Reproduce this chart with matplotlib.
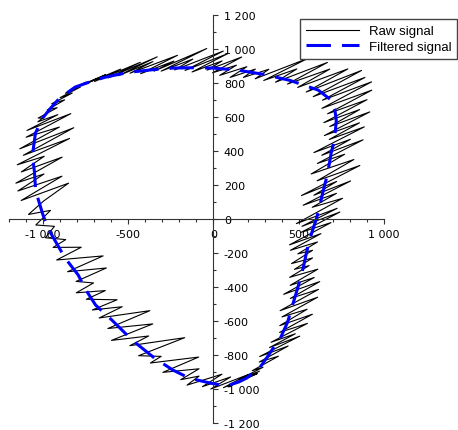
import matplotlib
matplotlib.use("Agg")
import matplotlib.pyplot as plt
from matplotlib.ticker import MultipleLocator, FuncFormatter

# raw (noisy) loop
raw_x = [-1000, -1026, -915, -973, -871, -947, -827, -898, -778, -867,
         -746, -798, -631, -756, -543, -696, -428, -616, -329, -557,
         -354, -488, -210, -426, -231, -347, -39, -306, -120, -227,
         58, -166, 82, -125, 51, -37, 166, -5, 135, 37,
         196, 98, 246, 176, 325, 245, 558, 295, 489, 364,
         668, 434, 682, 494, 788, 544, 868, 585, 888, 639,
         927, 636, 928, 669, 900, 647, 857, 682, 916, 650,
         856, 679, 884, 589, 803, 635, 877, 609, 769, 573,
         823, 608, 858, 516, 722, 589, 804, 526, 721, 579,
         757, 486, 725, 519, 741, 515, 689, 446, 630, 451,
         610, 495, 581, 458, 581, 475, 561, 447, 612, 450,
         591, 412, 623, 451, 616, 391, 611, 402, 549, 389,
         580, 388, 551, 338, 480, 329, 506, 271, 438, 269,
         381, 228, 291, 153, 270, 141, 257, 86, 216, 59,
         207, -15, 101, -64, 50, -154, -84, -191, -84, -296,
         -86, -369, -306, -438, -168, -489, -379, -597, -355, -618,
         -372, -669, -534, -709, -564, -744, -633, -803, -702, -804,
         -627, -854, -646, -918, -774, -939, -865, -984, -931, -1040,
         -954, -1083, -993, -848, -1126, -887, -1145, -992, -1157, -886,
         -1125, -991, -1149, -842, -1113, -818, -1134, -902, -1097, -835,
         -1092, -911, -1028, -1000]
raw_y = [594, 594, 655, 642, 701, 678, 741, 714, 777, 740,
         805, 779, 849, 792, 882, 809, 922, 830, 954, 843,
         926, 858, 963, 855, 929, 870, 1003, 870, 941, 877,
         988, 874, 972, 865, 930, 876, 953, 860, 905, 845,
         896, 833, 882, 833, 881, 825, 947, 815, 883, 805,
         921, 794, 882, 774, 883, 747, 874, 720, 833, 699,
         807, 651, 758, 619, 702, 567, 644, 544, 630, 491,
         566, 468, 542, 391, 469, 375, 466, 327, 381, 265,
         350, 225, 315, 138, 221, 140, 224, 81, 151, 69,
         122, -27, 63, -43, 41, -78, -21, -152, -86, -184,
         -135, -205, -184, -262, -229, -296, -274, -343, -295, -390,
         -344, -443, -368, -467, -414, -539, -460, -576, -531, -627,
         -560, -667, -614, -725, -675, -756, -689, -809, -747, -841,
         -807, -892, -872, -942, -895, -960, -909, -987, -926, -992,
         -914, -1000, -929, -986, -913, -977, -924, -945, -881, -902,
         -812, -847, -808, -804, -698, -745, -688, -714, -617, -644,
         -539, -582, -516, -535, -475, -472, -421, -434, -376, -367,
         -288, -310, -217, -241, -166, -167, -121, -110, -43, -35,
         51, 27, 107, 211, 109, 252, 165, 265, 211, 364,
         277, 369, 319, 474, 375, 537, 413, 541, 481, 620,
         521, 614, 572, 594]

# smoothed loop
filt_x = [-1000, -955, -911, -860, -810, -720, -631, -550, -476, -360,
          -238, -120, 0, 150, 300, 450, 613, 690, 712, 720,
          715, 705, 690, 680, 665, 649, 635, 620, 601, 580,
          560, 545, 530, 512, 494, 464, 435, 393, 351, 310,
          274, 235, 196, 150, 95, 40, -18, -90, -155, -238,
          -345, -476, -595, -690, -745, -792, -869, -923, -970, -1000,
          -1030, -1042, -1048, -1060, -1042, -1000]
filt_y = [594, 650, 700, 740, 776, 808, 835, 852, 865, 878,
          888, 890, 888, 875, 850, 815, 759, 700, 640, 582,
          520, 450, 388, 330, 250, 188, 130, 60, -6, -70,
          -135, -200, -271, -340, -406, -506, -606, -700, -759, -820,
          -871, -905, -935, -958, -976, -975, -965, -948, -929, -888,
          -818, -712, -594, -506, -420, -329, -229, -135, -53, 30,
          129, 182, 276, 376, 506, 594]


def thousands(v, pos):
    s = f"{abs(v):,.0f}".replace(",", " ")
    return ("-" if v < 0 else "") + s


fig = plt.figure(figsize=(4.58, 4.31), dpi=100)
ax = fig.add_axes([0.0186, 0.0162, 0.820, 0.9466])

ax.plot(raw_x, raw_y, color="black", lw=0.8, label="Raw signal")
ax.plot(filt_x, filt_y, color="blue", lw=2.2, dashes=(8, 3.6),
        label="Filtered signal")

ax.set_xlim(-1200, 1000)
ax.set_ylim(-1200, 1200)

# axes crossing at the origin, y labels on the right of the y axis
ax.spines["top"].set_visible(False)
ax.spines["left"].set_visible(False)
ax.spines["right"].set_position(("data", 0))
ax.spines["bottom"].set_position(("data", 0))
for s in ("right", "bottom"):
    ax.spines[s].set_color("#333333")
    ax.spines[s].set_linewidth(0.8)
ax.yaxis.tick_right()

ax.xaxis.set_major_locator(MultipleLocator(500))
ax.xaxis.set_minor_locator(MultipleLocator(100))
ax.yaxis.set_major_locator(MultipleLocator(200))
ax.yaxis.set_minor_locator(MultipleLocator(100))
ax.xaxis.set_major_formatter(FuncFormatter(thousands))
ax.yaxis.set_major_formatter(FuncFormatter(thousands))
ax.tick_params(which="major", direction="out", length=3.5, width=0.8,
               color="#333333", labelsize=8, pad=4)
ax.tick_params(which="minor", direction="out", length=2.5, width=0.8,
               color="#333333")

ax.legend(loc="upper right", bbox_to_anchor=(0.998, 0.9536),
          bbox_transform=fig.transFigure, borderaxespad=0,
          prop={"family": "Liberation Sans", "size": 9.5},
          handlelength=4.0, handletextpad=0.75, labelspacing=0.25,
          borderpad=0.45, fancybox=False, framealpha=1,
          edgecolor="#444444")

fig.savefig("out.png", dpi=100)
